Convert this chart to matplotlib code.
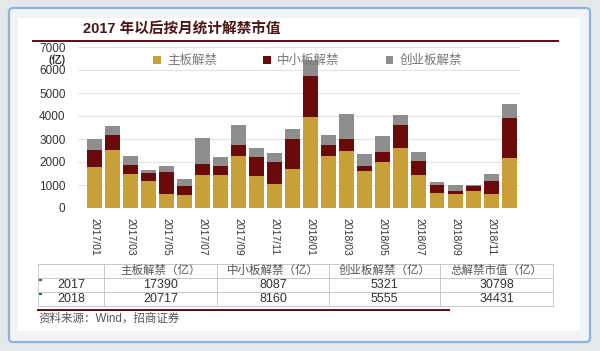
import numpy as np
import matplotlib.pyplot as plt
from matplotlib.patches import FancyBboxPatch, Rectangle

plt.rcParams['font.family'] = ['Liberation Sans', 'Noto Sans CJK SC', 'DejaVu Sans']

months = ['2017/01', '2017/02', '2017/03', '2017/04', '2017/05', '2017/06',
          '2017/07', '2017/08', '2017/09', '2017/10', '2017/11', '2017/12',
          '2018/01', '2018/02', '2018/03', '2018/04', '2018/05', '2018/06',
          '2018/07', '2018/08', '2018/09', '2018/10', '2018/11', '2018/12']
main_board = [1790, 2530, 1480, 1160, 610, 580, 1425, 1425, 2250, 1380, 1050, 1715,
              3970, 2250, 2500, 1600, 2020, 2620, 1440, 640, 625, 756, 610, 2165]
sme_board = [750, 640, 395, 350, 945, 365, 495, 420, 470, 840, 960, 1265,
             1770, 470, 520, 220, 420, 1000, 610, 350, 100, 220, 570, 1745]
gem_board = [440, 390, 375, 150, 275, 305, 1130, 375, 870, 400, 400, 465,
             685, 440, 1080, 535, 685, 420, 390, 160, 270, 20, 290, 625]
series_names = ['主板解禁', '中小板解禁', '创业板解禁']

table_cols = ['', '主板解禁（亿）', '中小板解禁（亿）', '创业板解禁（亿）', '总解禁市值（亿）']
table_rows = [['2017', '17390', '8087', '5321', '30798'],
              ['2018', '20717', '8160', '5555', '34431']]

W, H = 600, 351
fig = plt.figure(figsize=(6.0, 3.51), dpi=100)
fig.patch.set_facecolor('#e4e8eb')

bg = fig.add_axes([0, 0, 1, 1])
bg.set_xlim(0, W)
bg.set_ylim(H, 0)
bg.axis('off')
bg.add_patch(FancyBboxPatch((9, 8), 581, 334, boxstyle='round,pad=0,rounding_size=4',
                            facecolor='#f1f3f5', edgecolor='#8db4dc', linewidth=1.6))
bg.add_patch(Rectangle((18, 18), 562, 313, facecolor='white', edgecolor='none'))

# title
bg.plot([33, 558], [41, 41], color='#5a0d12', linewidth=1.4)
bg.text(83, 36.5, '2017 年以后按月统计解禁市值', fontsize=10.5, fontweight='bold',
        color='#4a1515', va='bottom', ha='left')

# chart
ax = fig.add_axes([78 / W, (H - 208) / H, (520 - 78) / W, (208 - 47) / H])
x = np.arange(len(months))
colors = ['#c9a038', '#6b0a0a', '#8e8e8e']
bottom = np.zeros(len(months))
for vals, name, c in zip([main_board, sme_board, gem_board], series_names, colors):
    ax.bar(x, vals, width=0.83, bottom=bottom, color=c, label=name, zorder=2)
    bottom += np.array(vals)

ax.set_xlim(-0.9, 23.6)
ax.set_ylim(0, 7000)
ax.set_yticks(np.arange(0, 7001, 1000))
ax.tick_params(axis='y', length=0, labelsize=8.5, colors='#333333', pad=9)
ax.grid(axis='y', color='#e3e3e3', linewidth=0.8, zorder=0)
ax.set_xticks(x[::2])
ax.set_xticklabels(months[::2], rotation=-90, fontsize=7.5, color='#333333')
ax.tick_params(axis='x', length=0, pad=7)
for s in ax.spines.values():
    s.set_visible(False)
bg.text(66, 59.5, '(亿)', fontsize=7.5, fontweight='bold', color='#333333',
        ha='right', va='center')

leg = ax.legend(loc='upper left', bbox_to_anchor=(0.145, 1.02), ncol=3, frameon=False,
                fontsize=9, handlelength=0.6, handleheight=0.6, columnspacing=3.7,
                handletextpad=0.5)
for t in leg.get_texts():
    t.set_color('#777777')

# table
col_edges = [38, 104, 217, 329, 440, 553]
row_edges = [264, 278, 292, 306]
for xe in col_edges:
    bg.plot([xe, xe], [row_edges[0], row_edges[-1]], color='#c8c8c8', linewidth=0.7)
for ye in row_edges:
    bg.plot([col_edges[0], col_edges[-1]], [ye, ye], color='#c8c8c8', linewidth=0.7)
for j, lbl in enumerate(table_cols):
    cx = (col_edges[j] + col_edges[j + 1]) / 2
    bg.text(cx, (row_edges[0] + row_edges[1]) / 2, lbl, fontsize=8.3,
            color='#555555', ha='center', va='center')
for i, row in enumerate(table_rows):
    cy = (row_edges[i + 1] + row_edges[i + 2]) / 2
    for j, val in enumerate(row):
        cx = (col_edges[j] + col_edges[j + 1]) / 2
        bg.text(cx, cy, val, fontsize=9, color='#333333', ha='center', va='center')
    bg.plot([39.5, 41], [row_edges[i + 1] + 2, row_edges[i + 1] + 2], color='#1e7a3c',
            linewidth=1.5)

bg.plot([38, 449], [310, 310], color='#5a0d12', linewidth=1.4)
bg.text(38, 319, '资料来源：Wind，招商证券', fontsize=8.3, color='#555555',
        ha='left', va='center')

fig.savefig('out.png', dpi=100, facecolor=fig.get_facecolor())
